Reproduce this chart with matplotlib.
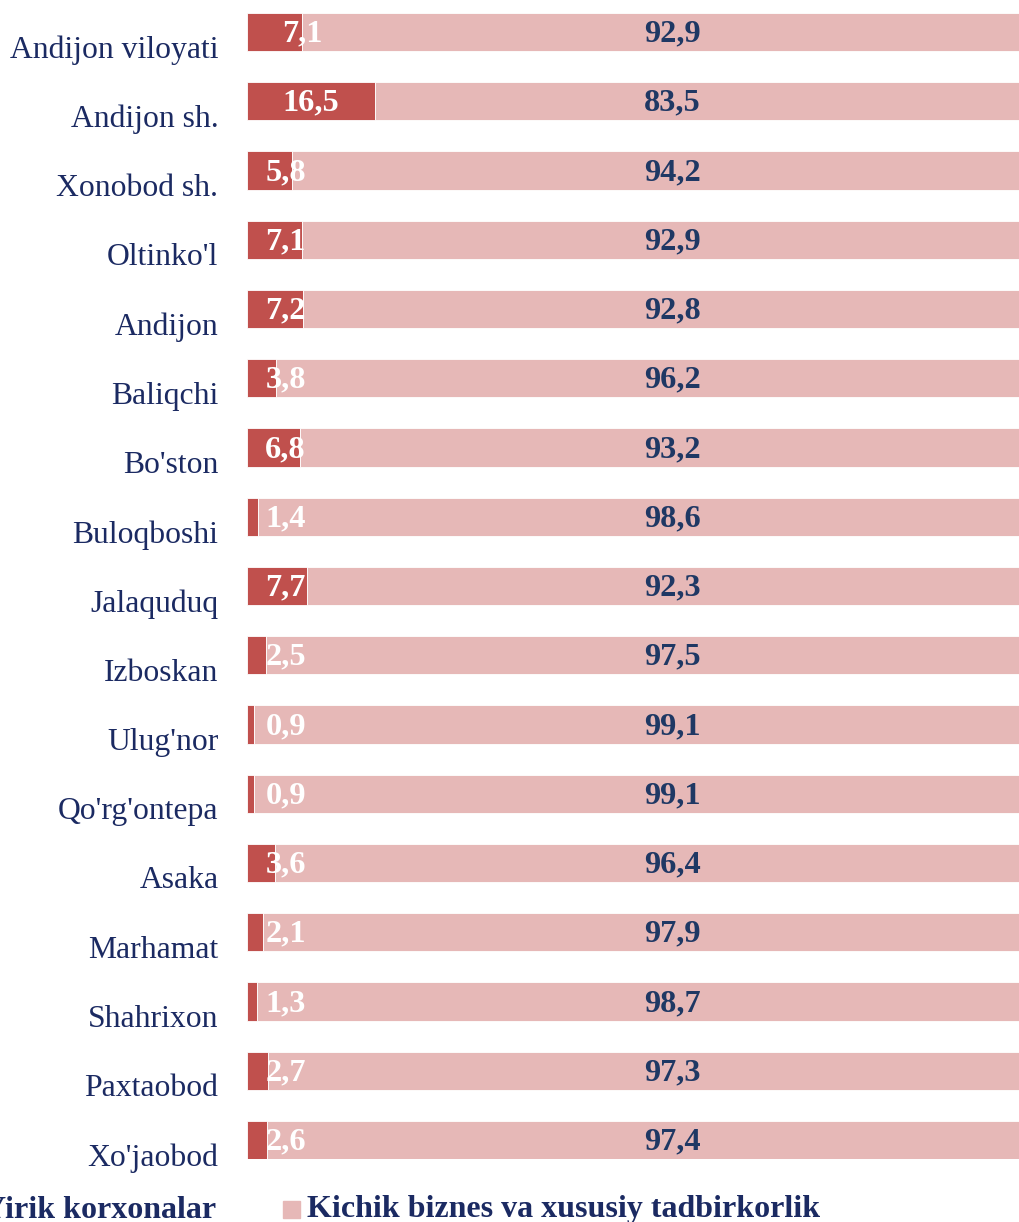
import matplotlib.pyplot as plt
from matplotlib.patches import Rectangle
import matplotlib.transforms as mtransforms

regions = ["Andijon viloyati", "Andijon sh.", "Xonobod sh.", "Oltinko'l", "Andijon",
           "Baliqchi", "Bo'ston", "Buloqboshi", "Jalaquduq", "Izboskan", "Ulug'nor",
           "Qo'rg'ontepa", "Asaka", "Marhamat", "Shahrixon", "Paxtaobod", "Xo'jaobod"]
large = [7.1, 16.5, 5.8, 7.1, 7.2, 3.8, 6.8, 1.4, 7.7, 2.5, 0.9, 0.9, 3.6, 2.1, 1.3, 2.7, 2.6]
small = [92.9, 83.5, 94.2, 92.9, 92.8, 96.2, 93.2, 98.6, 92.3, 97.5, 99.1, 99.1, 96.4, 97.9, 98.7, 97.3, 97.4]
legend_names = ["Yirik korxonalar", "Kichik biznes va xususiy tadbirkorlik"]

red = '#C0504D'
pink = '#E6B8B7'
navy = '#1B2A62'

plt.rcParams['font.family'] = ['Liberation Serif', 'DejaVu Serif']

W, H = 1020, 1222
fig = plt.figure(figsize=(W / 100, H / 100), dpi=100)
ax = fig.add_axes([247 / W, (H - 1159) / H, 773 / W, (1159 - 13) / H])

h = 0.55
ypos = list(range(len(regions)))
ax.barh(ypos, large, height=h, color=red, edgecolor='white', linewidth=0.6)
ax.barh(ypos, small, left=large, height=h, color=pink, edgecolor='white', linewidth=0.6)
ax.set_xlim(0, 100)
ax.set_ylim(len(regions) - 1 + h / 2, -h / 2)
ax.axis('off')

trans = mtransforms.blended_transform_factory(ax.transAxes, ax.transData)
for i, name in enumerate(regions):
    ax.text(-0.037, i + 0.26, name, transform=trans, ha='right', va='center',
            fontsize=22.8, color=navy)
    lx = large[i] / 2 if large[i] > 12 else 5
    if i == 0:
        lx = 7.2
    ax.text(lx, i + 0.03, ('%.1f' % large[i]).replace('.', ','), ha='center', va='center',
            fontsize=23.3, fontweight='bold', color='white')
    ax.text(55, i + 0.03, ('%.1f' % small[i]).replace('.', ','), ha='center', va='center',
            fontsize=23.3, fontweight='bold', color='#1F3864')

# legend along the bottom edge
fig.patches.append(Rectangle((-40 / W, (H - 1218) / H), 17 / W, 17 / H,
                             transform=fig.transFigure, color=red))
fig.text(216 / W, (H - 1210) / H, legend_names[0], ha='right', va='center',
         fontsize=23, fontweight='bold', color=navy)
fig.patches.append(Rectangle((283 / W, (H - 1218) / H), 17 / W, 17 / H,
                             transform=fig.transFigure, color=pink))
fig.text(307 / W, (H - 1210) / H, legend_names[1], ha='left', va='center',
         fontsize=23, fontweight='bold', color=navy)

fig.savefig('out.png', dpi=100)
